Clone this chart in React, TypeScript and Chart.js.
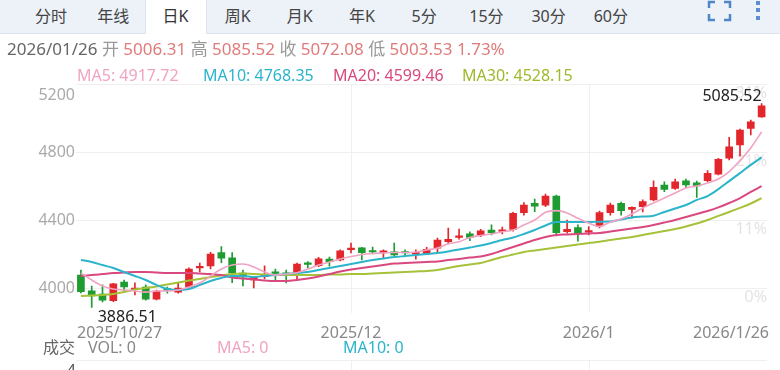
import React, { useEffect, useRef } from 'react';
import { Chart, registerables } from 'chart.js';
Chart.register(...registerables);

const dates = [
  '2025-10-27','2025-10-28','2025-10-29','2025-10-30','2025-10-31',
  '2025-11-03','2025-11-04','2025-11-05','2025-11-06','2025-11-07',
  '2025-11-10','2025-11-11','2025-11-12','2025-11-13','2025-11-14',
  '2025-11-17','2025-11-18','2025-11-19','2025-11-20','2025-11-21',
  '2025-11-24','2025-11-25','2025-11-26','2025-11-27','2025-11-28',
  '2025-12-01','2025-12-02','2025-12-03','2025-12-04','2025-12-05',
  '2025-12-08','2025-12-09','2025-12-10','2025-12-11','2025-12-12',
  '2025-12-15','2025-12-16','2025-12-17','2025-12-18','2025-12-19',
  '2025-12-22','2025-12-23','2025-12-24','2025-12-25','2025-12-26',
  '2025-12-29','2025-12-30','2025-12-31',
  '2026-01-05','2026-01-06','2026-01-07','2026-01-08','2026-01-09',
  '2026-01-12','2026-01-13','2026-01-14','2026-01-15','2026-01-16',
  '2026-01-19','2026-01-20','2026-01-21','2026-01-22','2026-01-23',
  '2026-01-26',
];

const opens = [4076,3984,3965,3925,4035,3990,4006,3935,3992,3976,4006,4118,4130,4208,4178,4088,4047,4066,4090,4090,4090,4143,4131,4170,4165,4226,4237,4215,4210,4213,4210,4200,4204,4234,4272,4298,4318,4312,4341,4333,4345,4443,4498,4488,4541,4331,4355,4329,4365,4443,4498,4463,4478,4518,4606,4586,4631,4619,4631,4670,4763,4841,4939,5006.31];
const highs = [4106,4012,4018,4028,4047,4030,4018,3988,4006,4030,4118,4147,4210,4243,4208,4106,4066,4130,4112,4106,4147,4155,4180,4182,4225,4265,4240,4241,4224,4265,4224,4224,4240,4294,4353,4347,4331,4345,4371,4359,4445,4502,4523,4553,4547,4400,4371,4361,4453,4500,4506,4478,4518,4631,4625,4641,4641,4629,4690,4763,4886,4935,4988,5085.52];
const lows = [3971,3886.51,3918,3919,3976,3959,3929,3930,3970,3970,4000,4094,4112,4149,4031,4012,4000,4053,4047,4030,4047,4118,4125,4129,4160,4206,4165,4200,4176,4190,4184,4170,4196,4206,4259,4288,4278,4302,4312,4318,4335,4429,4449,4478,4306,4323,4276,4312,4353,4429,4429,4412,4447,4512,4566,4580,4588,4533,4625,4665,4753,4776,4900,5003.53];
const closes = [3978,3953,3929,4024,4006,4000,3935,3982,3988,4000,4112,4124,4200,4176,4090,4065,4065,4072,4086,4076,4141,4139,4171,4155,4219,4232,4208,4212,4215,4194,4206,4205,4228,4282,4286,4304,4298,4337,4325,4339,4439,4488,4482,4541,4325,4345,4322,4335,4443,4488,4455,4475,4508,4592,4580,4625,4606,4600,4675,4757,4831,4929,4978,5072.08];

const ma5 = [4088,4047,4012,3994,3988,3982,3976,3982,3982,3988,4006,4029,4071,4112,4135,4141,4124,4094,4076,4082,4090,4112,4135,4153,4171,4185,4197,4203,4206,4209,4209,4212,4224,4235,4260,4272,4297,4309,4318,4331,4341,4371,4400,4445,4455,4441,4410,4382,4362,4388,4406,4435,4471,4500,4529,4559,4588,4600,4618,4641,4685,4750,4824,4917.72];
const ma10 = [4165,4153,4135,4118,4094,4071,4047,4018,3994,3988,3994,4018,4041,4059,4071,4071,4065,4071,4076,4082,4088,4094,4106,4118,4129,4141,4153,4165,4174,4182,4188,4194,4200,4206,4215,4226,4238,4250,4265,4282,4297,4318,4341,4368,4388,4388,4388,4388,4390,4391,4403,4415,4420,4425,4447,4468,4488,4518,4541,4582,4629,4676,4724,4768.35];
const ma20 = [4071,4076,4082,4088,4091,4094,4094,4091,4088,4088,4088,4085,4082,4076,4062,4056,4050,4044,4041,4041,4047,4056,4068,4082,4097,4109,4118,4126,4135,4144,4147,4150,4153,4156,4165,4171,4179,4185,4200,4221,4241,4262,4282,4300,4312,4315,4318,4321,4324,4332,4341,4350,4359,4371,4385,4400,4418,4435,4453,4474,4500,4529,4565,4599.46];
const ma30 = [3953,3956,3959,3965,3976,3991,4000,4009,4021,4032,4044,4053,4065,4074,4082,4085,4082,4079,4076,4076,4076,4076,4076,4079,4079,4082,4082,4085,4088,4091,4094,4097,4100,4106,4118,4129,4138,4147,4165,4182,4197,4212,4221,4229,4238,4247,4256,4265,4272,4282,4291,4300,4312,4324,4335,4347,4362,4379,4400,4424,4447,4471,4497,4528.15];

const yTicks = [4000, 4400, 4800, 5200];
const pctTicks = ['0%', '11%', '21%', '31%'];
const xTickIdx = [0, 25, 47, 63];
const xTickText = ['2025/10/27', '2025/12', '2026/1', '2026/1/26'];
const tabs = ['分时', '年线', '日K', '周K', '月K', '年K', '5分', '15分', '30分', '60分'];
const selectedTab = 2;

const UP = '#e3262b';
const DOWN = '#1e9b31';
const C_MA5 = '#f0a3c2';
const C_MA10 = '#2cb4cb';
const C_MA20 = '#d9487f';
const C_MA30 = '#a6c13a';
const FONT = '"Noto Sans", "Noto Sans CJK SC", sans-serif';

const overlayPlugin = {
  id: 'kOverlay',
  beforeDatasetsDraw(chart: any) {
    const { ctx, chartArea: a, scales } = chart;
    const x = scales.x, y = scales.y;
    ctx.save();
    ctx.lineWidth = 1;
    ctx.strokeStyle = '#efefef';
    yTicks.forEach((v) => {
      const py = Math.round(y.getPixelForValue(v)) + 0.5;
      ctx.beginPath(); ctx.moveTo(a.left, py); ctx.lineTo(a.right, py); ctx.stroke();
    });
    [xTickIdx[1], xTickIdx[2]].forEach((i) => {
      const px = Math.round(x.getPixelForValue(i)) + 0.5;
      ctx.beginPath(); ctx.moveTo(px, a.top); ctx.lineTo(px, a.bottom); ctx.stroke();
      ctx.beginPath(); ctx.moveTo(px, 360); ctx.lineTo(px, 370); ctx.stroke();
    });
    ctx.beginPath(); ctx.moveTo(a.left, 360.5); ctx.lineTo(a.right, 360.5); ctx.stroke();
    ctx.font = '16px ' + FONT;
    ctx.fillStyle = '#e4e4e4';
    ctx.textAlign = 'right';
    ctx.textBaseline = 'alphabetic';
    yTicks.forEach((v, i) => {
      ctx.fillText(pctTicks[i], a.right, y.getPixelForValue(v) + 13.5);
    });
    ctx.restore();
  },
  afterDatasetsDraw(chart: any) {
    const { ctx, chartArea: a, scales } = chart;
    const x = scales.x, y = scales.y;
    ctx.save();
    ctx.font = '16px ' + FONT;
    ctx.textBaseline = 'alphabetic';
    // left price labels
    ctx.fillStyle = '#aaaaaa';
    ctx.textAlign = 'right';
    yTicks.forEach((v) => {
      const py = Math.max(y.getPixelForValue(v) + 5, a.top + 15.5);
      ctx.fillText(String(v), a.left - 0.5, py);
    });
    // date labels
    ctx.fillStyle = '#888888';
    xTickIdx.forEach((idx, k) => {
      const px = x.getPixelForValue(idx);
      if (k === 0) { ctx.textAlign = 'left'; ctx.fillText(xTickText[k], a.left + 1.5, 338); }
      else if (k === xTickIdx.length - 1) { ctx.textAlign = 'right'; ctx.fillText(xTickText[k], a.right + 2, 338); }
      else { ctx.textAlign = 'center'; ctx.fillText(xTickText[k], px, 338); }
    });
    // max / min marks
    let hi = 0, lo = 0;
    highs.forEach((v, i) => { if (v > highs[hi]) hi = i; });
    lows.forEach((v, i) => { if (v < lows[lo]) lo = i; });
    ctx.fillStyle = '#222222';
    ctx.textAlign = 'right';
    ctx.fillText(highs[hi].toFixed(2), x.getPixelForValue(hi), y.getPixelForValue(highs[hi]) - 2.5);
    ctx.textAlign = 'left';
    ctx.fillText(lows[lo].toFixed(2), x.getPixelForValue(lo) + 6, y.getPixelForValue(lows[lo]) + 14.5);
    // volume panel first tick (cut off)
    ctx.fillStyle = '#555555';
    ctx.textAlign = 'right';
    ctx.fillText('4', a.left + 0.5, 375.5);
    ctx.restore();
  },
};

function TabIcons() {
  return (
    <svg width={780} height={33} style={{ position: 'absolute', left: 0, top: 0 }}>
      <g stroke="#4f86c6" strokeWidth={2.5} fill="none">
        <path d="M709 8 V2 H715" />
        <path d="M724 2 H730 V8" />
        <path d="M709 14 V20 H715" />
        <path d="M724 20 H730 V14" />
      </g>
      <g fill="#5b8fd0">
        <rect x={756} y={1} width={4} height={4} />
        <rect x={756} y={8} width={4} height={4} />
        <rect x={756} y={16} width={4} height={4} />
      </g>
    </svg>
  );
}

export default function App() {
  const ref = useRef<HTMLCanvasElement | null>(null);
  useEffect(() => {
    if (!ref.current) return;
    const colors = closes.map((c, i) => (c >= opens[i] ? UP : DOWN));
    const chart = new Chart(ref.current, {
      type: 'bar',
      data: {
        labels: dates,
        datasets: [
          { type: 'line', label: 'MA5', data: ma5, borderColor: C_MA5, borderWidth: 1.6, pointRadius: 0, cubicInterpolationMode: 'monotone', order: 0 } as any,
          { type: 'line', label: 'MA10', data: ma10, borderColor: C_MA10, borderWidth: 2, pointRadius: 0, cubicInterpolationMode: 'monotone', order: 0 } as any,
          { type: 'line', label: 'MA20', data: ma20, borderColor: C_MA20, borderWidth: 2, pointRadius: 0, cubicInterpolationMode: 'monotone', order: 0 } as any,
          { type: 'line', label: 'MA30', data: ma30, borderColor: C_MA30, borderWidth: 2, pointRadius: 0, cubicInterpolationMode: 'monotone', order: 0 } as any,
          { type: 'bar', label: 'wick', data: lows.map((l, i) => [l, highs[i]]), backgroundColor: colors, barThickness: 1, grouped: false, order: 2 } as any,
          { type: 'bar', label: 'body', data: opens.map((o, i) => [Math.min(o, closes[i]), Math.max(o, closes[i])]), backgroundColor: colors, barThickness: 7, minBarLength: 1.5, grouped: false, order: 1 } as any,
        ],
      },
      options: {
        responsive: false,
        animation: false,
        events: [],
        layout: { padding: { left: 75.5, top: 84, right: 13, bottom: 57 } },
        plugins: { legend: { display: false }, tooltip: { enabled: false } },
        scales: {
          x: { type: 'category', offset: true, display: false },
          y: { type: 'linear', min: 3853, max: 5200, display: false },
        },
      },
      plugins: [overlayPlugin],
    });
    return () => chart.destroy();
  }, []);

  const num = { color: '#e07b7b' };
  const lab = { color: '#999999' };
  return (
    <div style={{ position: 'fixed', left: 0, top: 0, width: 780, height: 370, overflow: 'hidden', background: '#ffffff', fontFamily: FONT }}>
      <canvas ref={ref} width={780} height={370} style={{ position: 'absolute', left: 0, top: 0, display: 'block' }} />
      <div style={{ position: 'absolute', left: 0, top: 0, width: 780, height: 33, background: '#edf2f9', borderBottom: '1px solid #dde4ee' }} />
      <div style={{ position: 'absolute', left: 145, top: 0, width: 60, height: 34, background: '#ffffff', borderLeft: '1px solid #dde4ee', borderRight: '1px solid #dde4ee' }} />
      {tabs.map((t, i) => (
        <div key={t} style={{ position: 'absolute', left: 51 + i * 62.2 - 30, top: 0, width: 60, height: 30, display: 'flex', alignItems: 'center', justifyContent: 'center', fontSize: 16, color: i === selectedTab ? '#333333' : '#444444' }}>{t}</div>
      ))}
      <TabIcons />
      <div style={{ position: 'absolute', left: 7, top: 39.4, fontSize: 17, lineHeight: '20px', whiteSpace: 'nowrap', color: '#666666' }}>
        <span>2026/01/26</span> <span style={lab}>开</span> <span style={num}>5006.31</span> <span style={lab}>高</span> <span style={num}>5085.52</span> <span style={lab}>收</span> <span style={num}>5072.08</span> <span style={lab}>低</span> <span style={num}>5003.53</span> <span style={num}>1.73%</span>
      </div>
      <div style={{ position: 'absolute', top: 65.3, left: 0, width: 780, fontSize: 16, lineHeight: '20px', whiteSpace: 'nowrap' }}>
        <span style={{ position: 'absolute', left: 77, color: C_MA5 }}>MA5: 4917.72</span>
        <span style={{ position: 'absolute', left: 203, color: C_MA10 }}>MA10: 4768.35</span>
        <span style={{ position: 'absolute', left: 333, color: C_MA20 }}>MA20: 4599.46</span>
        <span style={{ position: 'absolute', left: 462, color: '#9dba2c' }}>MA30: 4528.15</span>
      </div>
      <div style={{ position: 'absolute', top: 337, left: 0, width: 780, fontSize: 16, lineHeight: '20px', whiteSpace: 'nowrap' }}>
        <span style={{ position: 'absolute', left: 43, color: '#666666' }}>成交</span>
        <span style={{ position: 'absolute', left: 88, color: '#888888' }}>VOL: 0</span>
        <span style={{ position: 'absolute', left: 217, color: C_MA5 }}>MA5: 0</span>
        <span style={{ position: 'absolute', left: 343, color: C_MA10 }}>MA10: 0</span>
      </div>
    </div>
  );
}
